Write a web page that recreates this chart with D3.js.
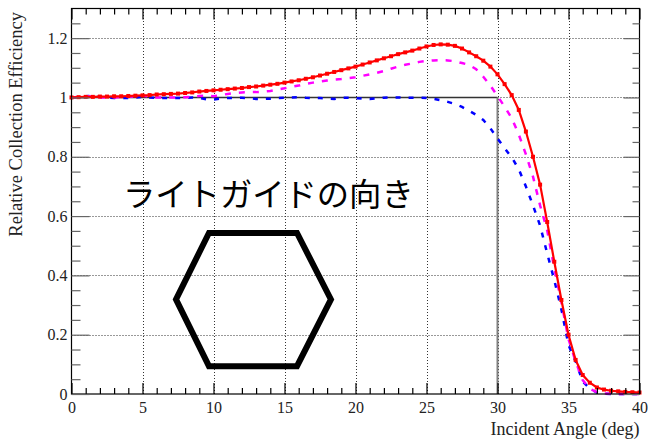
<!DOCTYPE html>
<html>
<head>
<meta charset="utf-8">
<script src="https://cdn.jsdelivr.net/npm/d3@7"></script>
<style>
  html, body { margin: 0; padding: 0; background: #fff; }
  svg { display: block; }
</style>
</head>
<body>
<svg id="chart" width="648" height="439"></svg>
<script>
// Incident angle samples (deg)
const angles = [
  0, 0.5, 1, 1.5, 2, 2.5, 3, 3.5, 4, 4.5, 5, 5.5, 6, 6.5, 7, 7.5, 8, 8.5, 9, 9.5,
  10, 10.5, 11, 11.5, 12, 12.5, 13, 13.5, 14, 14.5, 15, 15.5, 16, 16.5, 17, 17.5, 18, 18.5, 19, 19.5,
  20, 20.5, 21, 21.5, 22, 22.5, 23, 23.5, 24, 24.5, 25, 25.5, 26, 26.5, 27, 27.5, 28, 28.5, 29, 29.5,
  30, 30.5, 31, 31.5, 32, 32.5, 33, 33.5, 34, 34.5, 35, 35.5, 36, 36.5, 37, 37.5, 38, 38.5, 39, 39.5, 40
];

// Relative collection efficiency, red (solid with markers)
const effRed = [
  1.000, 1.001, 1.002, 1.002, 1.003, 1.003, 1.004, 1.004, 1.005, 1.006, 1.007, 1.008, 1.010, 1.011, 1.012, 1.013, 1.015, 1.017, 1.020, 1.022,
  1.024, 1.026, 1.028, 1.030, 1.032, 1.035, 1.037, 1.040, 1.043, 1.046, 1.050, 1.054, 1.058, 1.063, 1.068, 1.074, 1.080, 1.086, 1.092, 1.098,
  1.104, 1.111, 1.118, 1.125, 1.132, 1.139, 1.146, 1.152, 1.158, 1.165, 1.172, 1.177, 1.179, 1.178, 1.174, 1.165, 1.152, 1.139, 1.124, 1.104,
  1.078, 1.045, 1.008, 0.958, 0.885, 0.800, 0.706, 0.580, 0.446, 0.317, 0.200, 0.115, 0.064, 0.038, 0.022, 0.015, 0.011, 0.009, 0.007, 0.006, 0.005
];

// Relative collection efficiency, magenta (dashed)
const effMagenta = [
  1.000, 1.002, 1.004, 1.003, 1.000, 1.000, 1.000, 1.001, 1.002, 1.004, 1.006, 1.003, 1.000, 1.000, 1.000, 1.000, 1.001, 1.002, 1.005, 1.006,
  1.004, 1.008, 1.012, 1.015, 1.017, 1.018, 1.018, 1.020, 1.022, 1.027, 1.031, 1.036, 1.040, 1.046, 1.050, 1.054, 1.057, 1.060, 1.062, 1.065,
  1.068, 1.073, 1.078, 1.083, 1.089, 1.097, 1.104, 1.110, 1.115, 1.120, 1.123, 1.125, 1.126, 1.125, 1.122, 1.116, 1.110, 1.095, 1.070, 1.040,
  1.005, 0.969, 0.930, 0.875, 0.808, 0.733, 0.636, 0.552, 0.424, 0.310, 0.185, 0.110, 0.047, 0.018, 0.006, 0.002, 0.001, 0.000, 0.000, 0.000, 0.000
];

// Relative collection efficiency, blue (dashed)
const effBlue = [
  1.000, 1.001, 1.004, 1.006, 1.002, 1.000, 0.998, 0.998, 0.998, 1.000, 1.002, 1.000, 0.998, 0.998, 0.998, 0.998, 0.999, 1.000, 0.998, 0.994,
  0.993, 0.996, 0.998, 0.998, 0.999, 0.998, 0.995, 0.995, 0.996, 0.998, 0.999, 1.000, 1.001, 0.999, 0.998, 0.998, 0.996, 0.995, 0.999, 0.999,
  0.998, 0.996, 0.995, 0.997, 0.999, 1.000, 1.000, 0.999, 0.999, 0.999, 0.998, 0.995, 0.991, 0.985, 0.978, 0.968, 0.955, 0.941, 0.924, 0.896,
  0.862, 0.829, 0.798, 0.758, 0.700, 0.636, 0.568, 0.474, 0.384, 0.285, 0.165, 0.110, 0.042, 0.018, 0.005, 0.001, 0.000, 0.000, 0.000, 0.000, 0.000
];

// Axis ticks and labels
const xMajor = [0, 5, 10, 15, 20, 25, 30, 35, 40];
const xMinor = [1, 2, 3, 4, 6, 7, 8, 9, 11, 12, 13, 14, 16, 17, 18, 19, 21, 22, 23, 24, 26, 27, 28, 29, 31, 32, 33, 34, 36, 37, 38, 39];
const yMajor = [0, 0.2, 0.4, 0.6, 0.8, 1.0, 1.2];
const yMinor = [0.05, 0.1, 0.15, 0.25, 0.3, 0.35, 0.45, 0.5, 0.55, 0.65, 0.7, 0.75, 0.85, 0.9, 0.95, 1.05, 1.1, 1.15, 1.25];
const yTickLabels = ["0", "0.2", "0.4", "0.6", "0.8", "1", "1.2"];
const xTitle = "Incident Angle (deg)";
const yTitle = "Relative Collection Efficiency";
const annotation = "ライトガイドの向き";

// Reference lines: unity efficiency up to the critical angle
const refAngle = 30;
const refLevel = 1;

// Hexagon outline (light-guide orientation), in data units
const hexagon = [
  [7.36, 0.319], [9.68, 0.543], [15.88, 0.543], [18.27, 0.319], [15.88, 0.094], [9.68, 0.094]
];

const svg = d3.select("#chart");
const x = d3.scaleLinear().domain([0, 40]).range([71.5, 639.5]);
const y = d3.scaleLinear().domain([0, 1.3]).range([394, 8.5]);
const serif = "'Liberation Serif', 'Times New Roman', serif";

// Grid
const grid = svg.append("g").attr("stroke", "#333").attr("stroke-width", 1).attr("stroke-dasharray", "1,2");
grid.selectAll("line.gx").data(xMajor.slice(1, -1)).join("line")
  .attr("x1", d => Math.round(x(d)) + 0.5).attr("x2", d => Math.round(x(d)) + 0.5)
  .attr("y1", y(0)).attr("y2", y(1.3));
grid.selectAll("line.gy").data(yMajor.slice(1)).join("line")
  .attr("y1", d => Math.round(y(d)) + 0.5).attr("y2", d => Math.round(y(d)) + 0.5)
  .attr("x1", x(0)).attr("x2", x(40));

// Reference lines
svg.append("line")
  .attr("x1", x(0)).attr("x2", x(refAngle)).attr("y1", y(refLevel)).attr("y2", y(refLevel))
  .attr("stroke", "#333").attr("stroke-width", 1.5);
svg.append("line")
  .attr("x1", x(refAngle)).attr("x2", x(refAngle)).attr("y1", y(0)).attr("y2", y(refLevel))
  .attr("stroke", "#808080").attr("stroke-width", 2);

const line = d3.line().x((d, i) => x(angles[i])).y(d => y(d));

svg.append("path").datum(effBlue)
  .attr("d", line).attr("fill", "none")
  .attr("stroke", "#0000ff").attr("stroke-width", 2.5).attr("stroke-dasharray", "5,8");

svg.append("path").datum(effMagenta)
  .attr("d", line).attr("fill", "none")
  .attr("stroke", "#ff00ff").attr("stroke-width", 2.5).attr("stroke-dasharray", "6,8");

svg.append("path").datum(effRed)
  .attr("d", line).attr("fill", "none")
  .attr("stroke", "#ff0000").attr("stroke-width", 2.2);

svg.append("g").selectAll("rect").data(effRed).join("rect")
  .attr("x", (d, i) => x(angles[i]) - 2).attr("y", d => y(d) - 2)
  .attr("width", 4).attr("height", 4).attr("fill", "#ff0000");

// Frame
svg.append("rect")
  .attr("x", x(0)).attr("y", y(1.3)).attr("width", x(40) - x(0)).attr("height", y(0) - y(1.3))
  .attr("fill", "none").attr("stroke", "#000").attr("stroke-width", 1.2);

// Axes (ticks point into the frame)
function styleAxis(g, color) {
  g.select(".domain").remove();
  g.selectAll(".tick line").attr("stroke", color).attr("stroke-width", 1.2);
}
svg.append("g").attr("transform", `translate(0,${y(0)})`)
  .call(d3.axisBottom(x).tickValues(xMajor).tickSize(-11).tickPadding(8).tickFormat(d3.format("d")))
  .call(g => styleAxis(g, "#000"))
  .call(g => g.selectAll("text").attr("font-family", serif).attr("font-size", 16).attr("fill", "#222"));
svg.append("g").attr("transform", `translate(0,${y(0)})`)
  .call(d3.axisBottom(x).tickValues(xMinor).tickSize(-6).tickFormat(""))
  .call(g => styleAxis(g, "#000"));
svg.append("g").attr("transform", `translate(0,${y(1.3)})`)
  .call(d3.axisTop(x).tickValues(xMajor).tickSize(-11).tickFormat(""))
  .call(g => styleAxis(g, "#000"));
svg.append("g").attr("transform", `translate(0,${y(1.3)})`)
  .call(d3.axisTop(x).tickValues(xMinor).tickSize(-6).tickFormat(""))
  .call(g => styleAxis(g, "#000"));

svg.append("g").attr("transform", `translate(${x(0)},0)`)
  .call(d3.axisLeft(y).tickValues(yMajor).tickSize(-18).tickPadding(4).tickFormat((d, i) => yTickLabels[i]))
  .call(g => styleAxis(g, "#666"))
  .call(g => g.selectAll("text").attr("font-family", serif).attr("font-size", 16).attr("fill", "#222"));
svg.append("g").attr("transform", `translate(${x(0)},0)`)
  .call(d3.axisLeft(y).tickValues(yMinor).tickSize(-9).tickFormat(""))
  .call(g => styleAxis(g, "#666"));
svg.append("g").attr("transform", `translate(${x(40)},0)`)
  .call(d3.axisRight(y).tickValues(yMajor).tickSize(-16).tickFormat(""))
  .call(g => styleAxis(g, "#666"));
svg.append("g").attr("transform", `translate(${x(40)},0)`)
  .call(d3.axisRight(y).tickValues(yMinor).tickSize(-7).tickFormat(""))
  .call(g => styleAxis(g, "#666"));

// Axis titles
svg.append("text")
  .attr("x", x(40)).attr("y", 435).attr("text-anchor", "end")
  .attr("font-family", serif).attr("font-size", 18).attr("fill", "#222")
  .text(xTitle);
svg.append("text")
  .attr("transform", "translate(22,12) rotate(-90)").attr("text-anchor", "end")
  .attr("font-family", serif).attr("font-size", 18.5).attr("fill", "#222")
  .text(yTitle);

// Annotation: light-guide orientation
svg.append("text")
  .attr("x", 123).attr("y", 206)
  .attr("font-family", "'Noto Sans CJK JP', sans-serif").attr("font-size", 32.3).attr("fill", "#000")
  .text(annotation);
svg.append("path")
  .attr("d", d3.line().x(d => x(d[0])).y(d => y(d[1])).curve(d3.curveLinearClosed)(hexagon))
  .attr("fill", "none").attr("stroke", "#000").attr("stroke-width", 6).attr("stroke-linejoin", "miter");
</script>
</body>
</html>
